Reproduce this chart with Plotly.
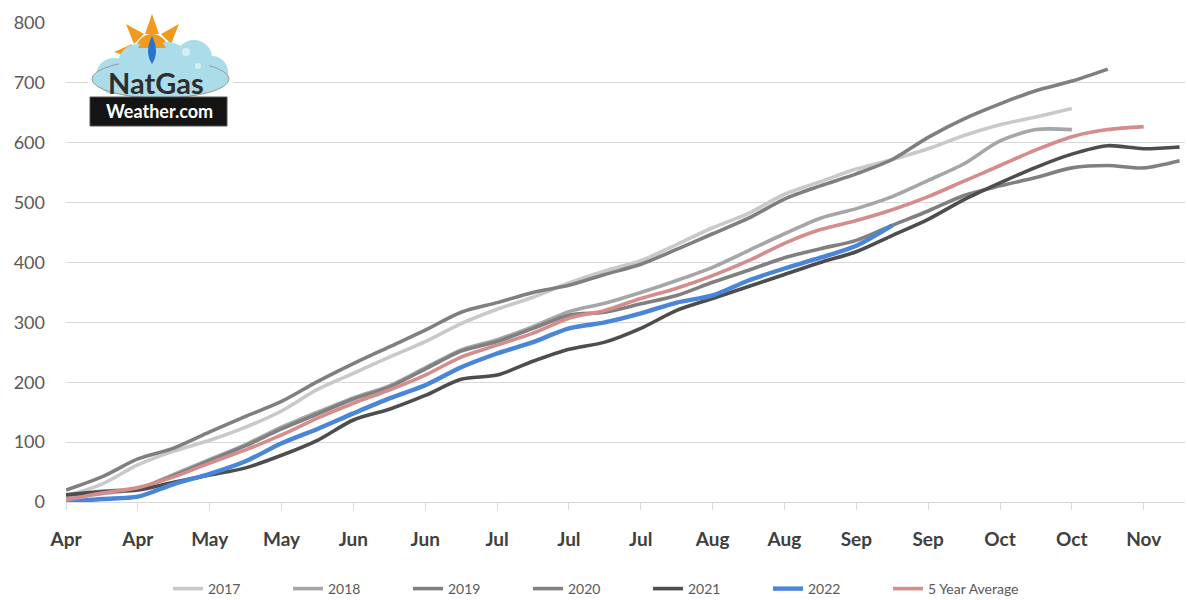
import plotly.graph_objects as go

# ---------------- data ----------------
tick_labels = ["Apr", "Apr", "May", "May", "Jun", "Jun", "Jul", "Jul", "Jul",
               "Aug", "Aug", "Sep", "Sep", "Oct", "Oct", "Nov"]

y2017 = [10, 30, 62, 85, 103, 125, 152, 188, 215, 242, 268, 298, 322, 342, 366,
         386, 403, 430, 458, 482, 514, 535, 556, 572, 590, 612, 630, 643, 657]
y2018 = [8, 14, 22, 46, 71, 96, 125, 150, 174, 194, 224, 254, 271, 293, 318,
         332, 350, 370, 392, 420, 448, 474, 490, 510, 537, 565, 603, 622, 622]
y2019 = [20, 42, 72, 90, 117, 143, 168, 201, 231, 259, 287, 317, 333, 350, 362,
         380, 397, 422, 448, 474, 506, 528, 548, 572, 609, 640, 665, 687, 703, 723]
y2020 = [12, 18, 22, 44, 69, 94, 122, 147, 172, 192, 222, 252, 268, 290, 312,
         317, 331, 345, 367, 387, 408, 423, 437, 462, 486, 512, 528, 542, 558, 562, 558, 570]
y2021 = [12, 17, 20, 33, 45, 57, 78, 103, 137, 155, 178, 205, 212, 235, 255,
         267, 290, 320, 340, 360, 380, 400, 418, 445, 472, 505, 533, 559, 581, 595, 590, 593]
y2022 = [0, 5, 9, 30, 47, 68, 98, 122, 148, 173, 195, 225, 248, 267, 290,
         300, 315, 333, 345, 370, 390, 408, 428, 462]
y5yr = [3, 15, 24, 42, 65, 87, 112, 140, 165, 187, 212, 242, 262, 282, 307,
        320, 340, 357, 378, 403, 432, 455, 470, 488, 510, 536, 562, 588, 610, 622, 627]

series = [
    ("2017", y2017, "#c9c9c9", 3.6),
    ("2018", y2018, "#a6a6a6", 3.6),
    ("2019", y2019, "#7f7f7f", 3.6),
    ("2020", y2020, "#808080", 3.6),
    ("2021", y2021, "#4d4d4d", 3.6),
    ("2022", y2022, "#4a86d8", 4.4),
    ("5 Year Average", y5yr, "#d48c8c", 3.6),
]

FONT = "Lato"
fig = go.Figure()
for name, vals, col, w in series:
    fig.add_trace(go.Scatter(
        x=list(range(len(vals))), y=vals, name=name, mode="lines",
        line=dict(color=col, width=w, shape="spline", smoothing=0.8),
    ))
# invisible spacer legend entry so the last real entry is not clipped
fig.add_trace(go.Scatter(x=[None], y=[None], name=" ", mode="lines",
                         line=dict(color="rgba(0,0,0,0)", width=0),
                         hoverinfo="skip"))

# ---------- layout geometry ----------
W, H = 1188, 600
L, R, T, B = 66, 3, 23, 98
PW = W - L - R
PH = H - T - B


def px(x):
    return (x - L) / PW


def py(y):
    return (H - B - y) / PH


fig.update_layout(
    width=W, height=H,
    margin=dict(l=L, r=R, t=T, b=B, autoexpand=False),
    paper_bgcolor="white", plot_bgcolor="white",
    font=dict(family=FONT, color="#595959"),
    showlegend=True,
    legend=dict(orientation="h", x=px(168), xanchor="left",
                y=py(589), yanchor="middle",
                font=dict(size=14, color="#595959", family=FONT),
                entrywidth=75, entrywidthmode="pixels",
                itemclick=False, traceorder="normal"),
    xaxis=dict(range=[0, 31.15], tickmode="array", automargin=False,
               tickvals=list(range(0, 2 * len(tick_labels), 2)),
               ticktext=tick_labels, showgrid=False, zeroline=False,
               showline=True, linecolor="#d9d9d9", linewidth=1.3,
               ticks="outside", ticklen=7, tickcolor="#d9d9d9", tickwidth=1.3,
               ticklabelstandoff=13,
               tickfont=dict(size=19, color="#404040", family=FONT, weight="bold")),
    yaxis=dict(range=[0, 800], dtick=100, showgrid=True, gridcolor="#d9d9d9",
               gridwidth=1.3, zeroline=False, showline=False, automargin=False,
               ticklabelstandoff=20,
               tickfont=dict(size=18, color="#595959", family=FONT)),
)

# ---------- logo (NatGasWeather.com) ----------
shapes = []
shapes.append(dict(type="rect", xref="paper", yref="paper",
                   x0=px(88), x1=px(233), y0=py(130), y1=py(8),
                   fillcolor="white", line=dict(width=0), layer="above"))
sun = "#f29a1e"
rays = [
    [(152, 14), (145, 34), (159, 34)],
    [(126, 24), (134, 44), (144, 34)],
    [(179, 24), (161, 34), (171, 44)],
    [(114, 52), (132, 44), (132, 58)],
    [(191, 52), (173, 44), (173, 58)],
]
for tri in rays:
    path = "M {} {} L {} {} L {} {} Z".format(
        px(tri[0][0]), py(tri[0][1]), px(tri[1][0]), py(tri[1][1]),
        px(tri[2][0]), py(tri[2][1]))
    shapes.append(dict(type="path", xref="paper", yref="paper", path=path,
                       fillcolor=sun, line=dict(width=0), layer="above"))
shapes.append(dict(type="circle", xref="paper", yref="paper",
                   x0=px(136), x1=px(168), y0=py(66), y1=py(34),
                   fillcolor=sun, line=dict(width=0), layer="above"))
cloud = "#abdce9"
for (cx, cy, r) in [(114, 76, 18), (138, 64, 20), (168, 62, 20), (194, 58, 18), (212, 72, 16)]:
    shapes.append(dict(type="circle", xref="paper", yref="paper",
                       x0=px(cx - r), x1=px(cx + r), y0=py(cy + r), y1=py(cy - r),
                       fillcolor=cloud, line=dict(width=0), layer="above"))
shapes.append(dict(type="circle", xref="paper", yref="paper",
                   x0=px(92), x1=px(229), y0=py(98), y1=py(60),
                   fillcolor=cloud, line=dict(color="#9a9a9a", width=1), layer="above"))
for (cx, cy, r) in [(138, 64, 19), (168, 62, 19), (194, 58, 17)]:
    shapes.append(dict(type="circle", xref="paper", yref="paper",
                       x0=px(cx - r), x1=px(cx + r), y0=py(cy + r), y1=py(cy - r),
                       fillcolor=cloud, line=dict(width=0), layer="above"))
shapes.append(dict(type="path", xref="paper", yref="paper",
                   path="M {} {} Q {} {} {} {} Z".format(px(138), py(48), px(152), py(22), px(166), py(48)),
                   fillcolor=sun, line=dict(width=0), layer="above"))
flame = "M {} {} Q {} {} {} {} Q {} {} {} {} Z".format(
    px(152), py(36), px(160), py(52), px(152), py(64), px(144), py(52), px(152), py(36))
shapes.append(dict(type="path", xref="paper", yref="paper", path=flame,
                   fillcolor="#2a73cf", line=dict(width=0), layer="above"))
for (cx, cy, r) in [(186, 52, 4), (198, 66, 3)]:
    shapes.append(dict(type="circle", xref="paper", yref="paper",
                       x0=px(cx - r), x1=px(cx + r), y0=py(cy + r), y1=py(cy - r),
                       fillcolor="#d8eef5", line=dict(width=0), layer="above"))
shapes.append(dict(type="rect", xref="paper", yref="paper",
                   x0=px(90), x1=px(227), y0=py(126), y1=py(97),
                   fillcolor="#141414", line=dict(color="#555555", width=1), layer="above"))
fig.update_layout(shapes=shapes)

fig.add_annotation(xref="paper", yref="paper", x=px(156), y=py(82),
                   text="<b>NatGas</b>", showarrow=False,
                   font=dict(family=FONT, size=29, color="#2e2e2e"),
                   xanchor="center", yanchor="middle")
fig.add_annotation(xref="paper", yref="paper", x=px(159), y=py(111),
                   text="<b>Weather.com</b>", showarrow=False,
                   font=dict(family=FONT, size=18, color="white"),
                   xanchor="center", yanchor="middle")

fig.write_html("out.html",
               config={"displayModeBar": False},
               post_script="document.body.style.margin='0px';"
                           "document.body.style.overflow='hidden';")
